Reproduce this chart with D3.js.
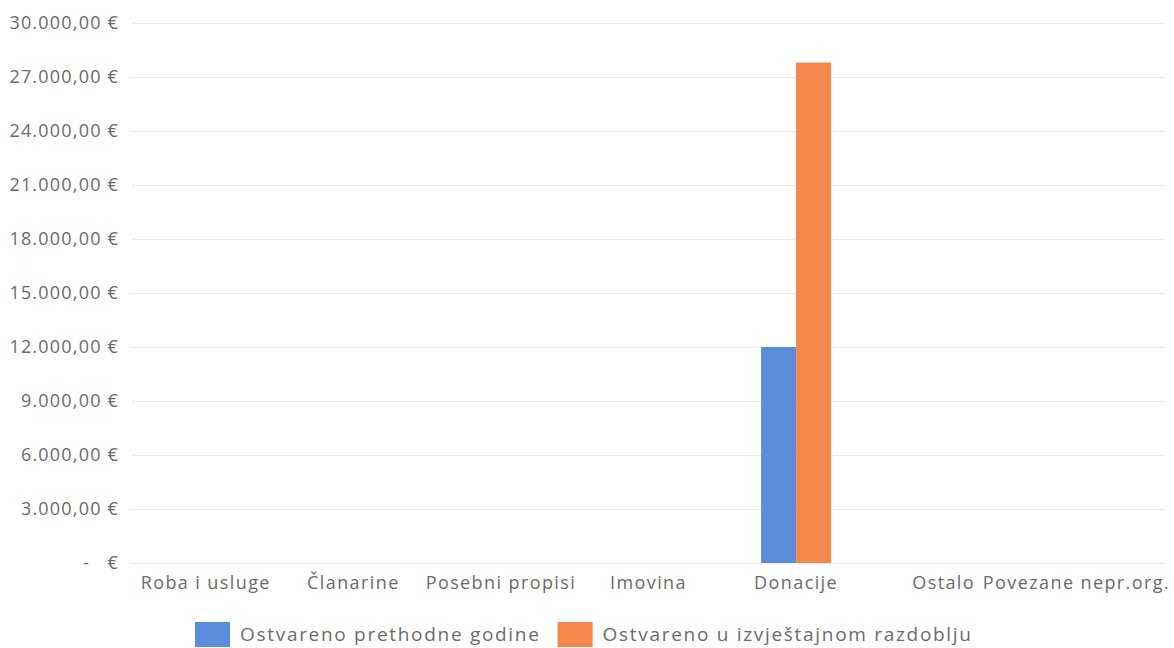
<!DOCTYPE html>
<html>
<head>
<meta charset="utf-8">
<script src="https://cdn.jsdelivr.net/npm/d3@7"></script>
<style>
  html, body { margin: 0; padding: 0; background: #fff; }
  svg { display: block; }
  text { font-family: "Open Sans", sans-serif; fill: #6b6b6b; }
</style>
</head>
<body>
<svg id="chart" width="1174" height="648"></svg>
<script>
const categories = ["Roba i usluge", "Članarine", "Posebni propisi", "Imovina", "Donacije", "Ostalo", "Povezane nepr.org."];
const seriesNames = ["Ostvareno prethodne godine", "Ostvareno u izvještajnom razdoblju"];
const prevYear = [0, 0, 0, 0, 12000, 0, 0];
const currentPeriod = [0, 0, 0, 0, 27800, 0, 0];
const yTicks = [0, 3000, 6000, 9000, 12000, 15000, 18000, 21000, 24000, 27000, 30000];
const colors = ["#5b8ddb", "#f4874b"];

const W = 1174, H = 648;
const m = { left: 132, right: 9, top: 23, bottom: 85 };
const svg = d3.select("#chart");

const x0 = d3.scaleBand().domain(categories).range([m.left, W - m.right])
  .paddingInner(0.526).paddingOuter(0.263);
const x1 = d3.scaleBand().domain(seriesNames).range([0, x0.bandwidth()]);
const y = d3.scaleLinear().domain([0, 30000]).range([H - m.bottom, m.top]);

const loc = d3.formatLocale({ decimal: ",", thousands: ".", grouping: [3], currency: ["", " €"] });
const fmt = loc.format(",.2f");
const tickFmt = d => d === 0 ? "-   €" : fmt(d) + " €";

// gridlines
const grid = svg.append("g")
  .attr("transform", `translate(${m.left},0)`)
  .call(d3.axisLeft(y).tickValues(yTicks).tickSize(-(W - m.left - m.right)).tickFormat(""));
grid.select(".domain").remove();
grid.selectAll("line").attr("stroke", "#e6e6e6").attr("stroke-width", 1).attr("stroke-dasharray", "3,1");

// y axis labels
const yAxis = svg.append("g")
  .attr("transform", `translate(${m.left - 10},0)`)
  .call(d3.axisLeft(y).tickValues(yTicks).tickSize(0).tickFormat(tickFmt));
yAxis.select(".domain").remove();
yAxis.selectAll("text").attr("font-size", 18).attr("fill", "#6b6b6b")
  .attr("letter-spacing", 1.2)
  .style("font-family", "'Open Sans', sans-serif").style("white-space", "pre");

// bars
const rows = categories.map((c, i) => ({ cat: c, vals: [prevYear[i], currentPeriod[i]] }));
svg.append("g").selectAll("g").data(rows).join("g")
  .attr("transform", d => `translate(${x0(d.cat)},0)`)
  .selectAll("rect").data(d => d.vals.map((v, j) => ({ v, s: seriesNames[j], j })))
  .join("rect")
  .attr("x", d => x1(d.s))
  .attr("width", x1.bandwidth())
  .attr("y", d => y(d.v))
  .attr("height", d => y(0) - y(d.v))
  .attr("fill", d => colors[d.j]);

// x axis labels
const xAxis = svg.append("g")
  .attr("transform", `translate(0,${H - m.bottom})`)
  .call(d3.axisBottom(x0).tickSize(0).tickPadding(13));
xAxis.select(".domain").remove();
xAxis.selectAll("text").attr("font-size", 18).attr("fill", "#6b6b6b")
  .attr("letter-spacing", 1.4)
  .style("font-family", "'Open Sans', sans-serif");

// avoid overflow / overlap of category labels (like Excel nudging)
const labels = xAxis.selectAll(".tick").nodes();
let limit = W - 4;
for (let i = labels.length - 1; i >= 0; i--) {
  const t = d3.select(labels[i]).select("text");
  const bb = t.node().getBBox();
  const cx = x0(categories[i]) + x0.bandwidth() / 2;
  const right = cx + bb.x + bb.width;
  let shift = 0;
  if (right > limit) shift = limit - right;
  t.attr("x", shift);
  limit = cx + bb.x + shift - 6;
}

// legend
const legend = svg.append("g").attr("transform", `translate(0,${H - 26})`);
const items = legend.selectAll("g").data(seriesNames).join("g");
items.append("rect").attr("width", 35).attr("height", 25).attr("y", 0)
  .attr("fill", (d, i) => colors[i]);
items.append("text").attr("x", 45).attr("y", 19).attr("font-size", 19)
  .attr("letter-spacing", 1.7).text(d => d);
let lx = 0;
const positions = [];
items.each(function () {
  positions.push(lx);
  lx += this.getBBox().width + 17;
});
const startX = 195;
items.attr("transform", (d, i) => `translate(${startX + positions[i]},0)`);
</script>
</body>
</html>
